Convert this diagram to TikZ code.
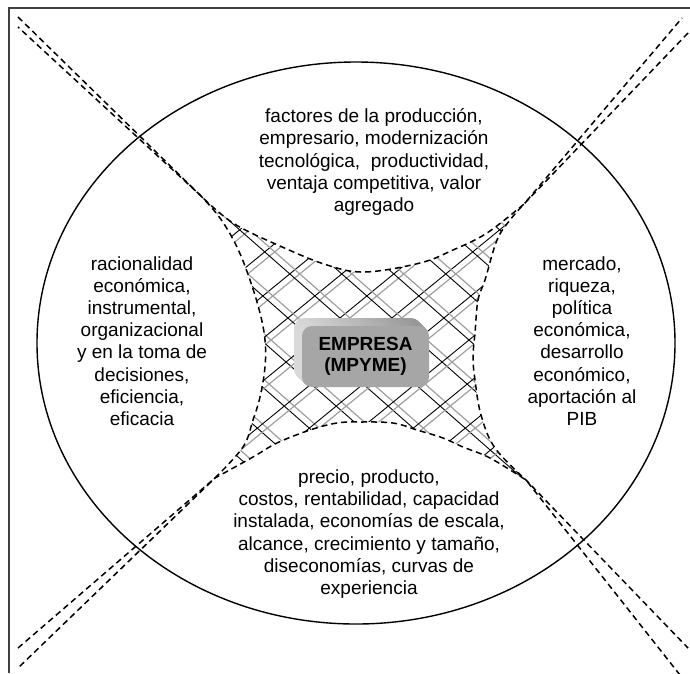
\documentclass[tikz,border=0pt]{standalone}
\usepackage{fontspec}
\setmainfont{Liberation Sans}
\usetikzlibrary{calc}
\begin{document}
\begin{tikzpicture}[x=1pt,y=-1pt,
  frameline/.style={draw=black!75,line width=1.8pt},
  outerell/.style={draw=black,line width=1.4pt},
  dashU/.style={draw=black,line width=1.5pt,dash pattern=on 6pt off 4pt},
  hatchblack/.style={draw=black,line width=0.9pt},
  hatchgray/.style={draw=gray!75,line width=1.2pt},
  txt/.style={align=center,font=\fontsize{19}{22.2}\selectfont,inner sep=0pt},
  boxfront/.style={fill=gray!70,rounded corners=10pt,minimum width=127pt,minimum height=61pt,inner sep=0pt,align=center,font=\fontsize{19}{21}\selectfont\bfseries}
]
\useasboundingbox (0,0) rectangle (690,673);
\fill[white] (0,0) rectangle (690,673);

% named points: frame corners of the dashed arms and tips of the central region
\coordinate (eT1) at (18,17);
\coordinate (eT2) at (682,18);
\coordinate (eL1) at (18,27);
\coordinate (eL2) at (18,648);
\coordinate (eR1) at (688,33);
\coordinate (eR2) at (688,648);
\coordinate (eB1) at (18,668);
\coordinate (eB2) at (680,675);
\coordinate (tTL) at (200,195);
\coordinate (tTR) at (524,204);
\coordinate (tBL) at (215,478);
\coordinate (tBR) at (526,480);

% crosshatch clipped to the central region
\begin{scope}[smooth,tension=0.6]
  \clip (tTL) -- plot coordinates {(200,195) (233,223) (280,246) (327,265) (365,272) (420,263) (453,250) (487,233) (524,204)}
    -- plot coordinates {(524,204) (510,220) (497,240) (485,280) (478,300) (475,333) (473,357) (475,380) (481,415) (495,448) (526,480)}
    -- plot coordinates {(526,480) (490,458) (463,447) (443,438) (417,430) (393,423) (360,422) (337,423) (310,430) (277,443) (253,457) (215,478)}
    -- plot coordinates {(215,478) (243,447) (253,420) (260,397) (265,367) (265,340) (260,313) (250,280) (237,247) (220,218) (200,195)}
    -- cycle;
  \foreach \k in {-9,...,9} {
    \draw[hatchgray] ({365+\k*52+10-330},{340-290}) -- ({365+\k*52+10+330},{340+290});
    \draw[hatchgray] ({365+\k*52+10-330},{340+270}) -- ({365+\k*52+10+330},{340-270});
    \draw[hatchblack] ({365+\k*52-330},{340-290}) -- ({365+\k*52+330},{340+290});
    \draw[hatchblack] ({365+\k*52-330},{340+270}) -- ({365+\k*52+330},{340-270});
  }
\end{scope}

% frame
\coordinate (fTL) at (9,8);
\coordinate (fTR) at (690,8);
\coordinate (fBL) at (9,673);
\draw[frameline] (fTR) -- (fTL) -- (fBL);

% outer ellipse
\coordinate (ec) at (356,343);
\draw[outerell] (ec) ellipse[x radius=319pt,y radius=281pt];

% dashed U shapes: straight arms from the frame corners, curved middle
\begin{scope}[smooth,tension=0.6]
  \draw[dashU] (eT1) -- (tTL) -- plot coordinates {(200,195) (233,223) (280,246) (327,265) (365,272) (420,263) (453,250) (487,233) (524,204)} -- (eT2);
  \draw[dashU] (eR1) -- (tTR) -- plot coordinates {(524,204) (510,220) (497,240) (485,280) (478,300) (475,333) (473,357) (475,380) (481,415) (495,448) (526,480)} -- (eR2);
  \draw[dashU] (eB2) -- (tBR) -- plot coordinates {(526,480) (490,458) (463,447) (443,438) (417,430) (393,423) (360,422) (337,423) (310,430) (277,443) (253,457) (215,478)} -- (eB1);
  \draw[dashU] (eL2) -- (tBL) -- plot coordinates {(215,478) (243,447) (253,420) (260,397) (265,367) (265,340) (260,313) (250,280) (237,247) (220,218) (200,195)} -- (eL1);
\end{scope}

% 3D box
\foreach \i in {8,...,1} {
  \shade[left color=gray!30,right color=gray!85,rounded corners=10pt]
    ({302-\i},{326-\i}) rectangle ({429-\i},{387-\i});
}
\node[boxfront] (box) at (365.5,356.5) {EMPRESA\\(MPYME)};

% texts
\node[txt] (top) at (374,162) {factores de la producción,\\empresario, modernización\\tecnológica,\ \ productividad,\\ventaja competitiva, valor\\agregado};
\node[txt] (left) at (142,341) {racionalidad\\económica,\\instrumental,\\organizacional\\y en la toma de\\decisiones,\\eficiencia,\\eficacia};
\node[txt] (right) at (582,341) {mercado,\\riqueza,\\política\\económica,\\desarrollo\\económico,\\aportación al\\PIB};
\node[txt] (bottom) at (369,534) {precio, producto,\\costos, rentabilidad, capacidad\\instalada, economías de escala,\\alcance, crecimiento y tamaño,\\diseconomías, curvas de\\experiencia};
\end{tikzpicture}
\end{document}
